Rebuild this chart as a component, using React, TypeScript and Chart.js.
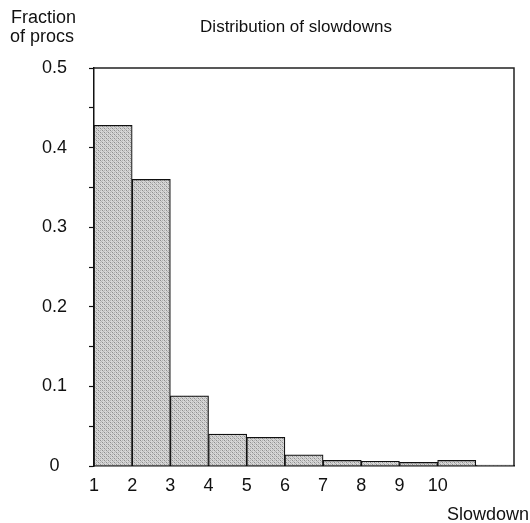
import React, { useEffect, useRef } from "react";
import { Chart, registerables } from "chart.js";

Chart.register(...registerables);

const binStarts = [1, 2, 3, 4, 5, 6, 7, 8, 9, 10, 11];
const fractions = [0.428, 0.36, 0.088, 0.04, 0.036, 0.014, 0.007, 0.006, 0.0045, 0.007, 0.001];
const xTickLabels = ["1", "2", "3", "4", "5", "6", "7", "8", "9", "10"];
const yTickLabels = ["0", "0.1", "0.2", "0.3", "0.4", "0.5"];
const titleText = "Distribution of slowdowns";
const yTitleLines = ["Fraction", "of procs"];
const xTitleText = "Slowdown";

const FONT = "'Liberation Sans', Arial, Helvetica, sans-serif";

function makePattern(): CanvasPattern | string {
  const c = document.createElement("canvas");
  c.width = 4;
  c.height = 4;
  const ctx = c.getContext("2d");
  if (!ctx) return "#c4c4c4";
  ctx.fillStyle = "#d6d6d6";
  ctx.fillRect(0, 0, 4, 4);
  ctx.fillStyle = "#8e8e8e";
  ctx.fillRect(0, 0, 1, 1);
  ctx.fillRect(2, 2, 1, 1);
  ctx.fillStyle = "#b4b4b4";
  ctx.fillRect(2, 0, 1, 1);
  ctx.fillRect(0, 2, 1, 1);
  ctx.fillRect(1, 1, 1, 1);
  ctx.fillRect(3, 3, 1, 1);
  const p = ctx.createPattern(c, "repeat");
  return p || "#c4c4c4";
}

const textPlugin = {
  id: "extraText",
  afterDraw(chart: any) {
    const ctx = chart.ctx as CanvasRenderingContext2D;
    const area = chart.chartArea;
    ctx.save();
    ctx.strokeStyle = "#222";
    ctx.lineWidth = 1.5;
    ctx.beginPath();
    ctx.moveTo(area.left, area.top);
    ctx.lineTo(area.right, area.top);
    ctx.lineTo(area.right, area.bottom);
    ctx.stroke();

    ctx.fillStyle = "#111";
    ctx.font = `17px ${FONT}`;
    ctx.textAlign = "center";
    ctx.textBaseline = "alphabetic";
    ctx.fillText(titleText, 296, 32);

    ctx.font = `18px ${FONT}`;
    ctx.textAlign = "left";
    ctx.fillText(yTitleLines[0], 11, 23);
    ctx.fillText(yTitleLines[1], 10, 42);

    ctx.textAlign = "right";
    ctx.fillText(xTitleText, 529, 520);
    ctx.restore();
  },
};

export default function App() {
  const ref = useRef<HTMLCanvasElement | null>(null);

  useEffect(() => {
    if (!ref.current) return;
    const pattern = makePattern();
    const data = binStarts.map((s, i) => ({ x: s + 0.5, y: fractions[i] }));
    const chart = new Chart(ref.current, {
      type: "bar",
      data: {
        datasets: [
          {
            data: data as any,
            backgroundColor: pattern as any,
            borderColor: "#111",
            borderWidth: 1.2,
            barPercentage: 1,
            categoryPercentage: 1,
          },
        ],
      },
      options: {
        animation: false,
        responsive: false,
        events: [],
        layout: { padding: { left: 0, top: 68, right: 16, bottom: 0 } },
        plugins: {
          legend: { display: false },
          tooltip: { enabled: false },
          title: { display: false },
        },
        scales: {
          x: {
            type: "linear",
            min: 1,
            max: 12,
            offset: false,
            afterFit: (s: any) => {
              s.height = 57;
            },
            grid: { display: true, drawOnChartArea: false, drawTicks: false },
            border: { display: true, color: "#111", width: 1.5 },
            ticks: {
              stepSize: 1,
              autoSkip: false,
              maxRotation: 0,
              padding: 9,
              color: "#111",
              font: { family: FONT, size: 18 },
              callback: (v: any) => {
                const i = Math.round(Number(v)) - 1;
                return i >= 0 && i < xTickLabels.length ? xTickLabels[i] : "";
              },
            },
          },
          y: {
            min: 0,
            max: 0.5,
            afterFit: (s: any) => {
              s.width = 94;
            },
            grid: {
              display: true,
              drawOnChartArea: false,
              drawTicks: true,
              tickLength: 5,
              tickColor: "#111",
              tickWidth: 1.2,
            },
            border: { display: true, color: "#111", width: 1.5 },
            ticks: {
              stepSize: 0.05,
              autoSkip: false,
              padding: 22,
              crossAlign: "center",
              color: "#111",
              font: { family: FONT, size: 18 },
              callback: (v: any) => {
                const t = Number(v) * 10;
                const r = Math.round(t);
                if (Math.abs(t - r) > 1e-6) return "";
                return yTickLabels[r] ?? "";
              },
            },
          },
        },
      },
      plugins: [textPlugin],
    });
    return () => chart.destroy();
  }, []);

  return (
    <div style={{ position: "absolute", left: 0, top: 0, width: 530, height: 523, background: "#fff" }}>
      <canvas ref={ref} width={530} height={523} style={{ display: "block" }} />
    </div>
  );
}
